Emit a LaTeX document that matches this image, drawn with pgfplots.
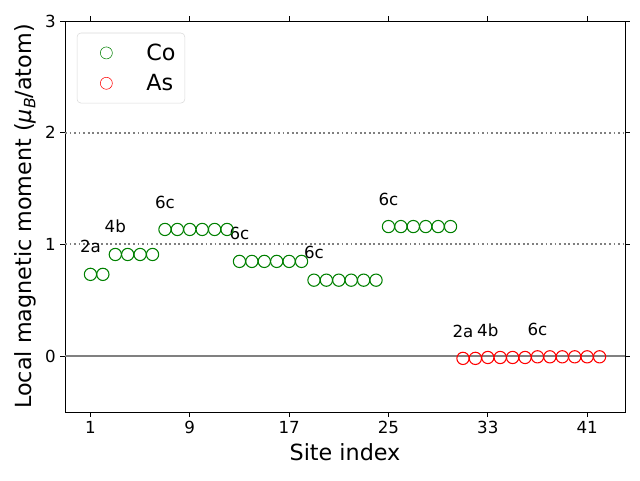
\documentclass[border=0pt]{standalone}
\usepackage{pgfplots}
\pgfplotsset{compat=1.18}
\usepackage{fontspec}
\setmainfont{DejaVu Sans}
\begin{document}
\begin{tikzpicture}
\begin{axis}[
  scale only axis,
  width=420pt, height=293.25pt,
  xmin=-1.05, xmax=44.05, ymin=-0.5, ymax=3,
  xtick={1,9,17,25,33,41},
  ytick={0,1,2,3},
  /pgf/number format/assume math mode=true,
  tick label style={font=\fontsize{12.5}{14}\selectfont},
  label style={font=\fontsize{16.7}{19}\selectfont},
  xlabel={Site index},
  ylabel={Local magnetic moment (\textit{μ}\raisebox{-0.35ex}{\fontsize{11.7}{12}\selectfont\textit{B}}/atom)},
  tick align=outside,
  tick style={black, line width=0.6pt},
  major tick length=3.5pt,
  axis line style={line width=0.6pt},
  legend style={font=\fontsize{16.7}{19}\selectfont, draw=black!15, rounded corners=3pt,
    at={(0.021,0.97)}, anchor=north west, inner xsep=5pt, inner ysep=6pt,
    row sep=5pt},
  legend cell align=left,
  legend image code/.code={\path[draw=none,fill=none] (0pt,-5pt) (45pt,5pt); \draw[#1] (17pt,0pt) circle (4.5pt);},
  clip=false,
]
\draw[gray, line width=1.1pt] (axis cs:-1.05,0) -- (axis cs:44.05,0);
\draw[gray, line width=1.4pt, dotted] (axis cs:-1.05,1) -- (axis cs:44.05,1);
\draw[gray, line width=1.4pt, dotted] (axis cs:-1.05,2) -- (axis cs:44.05,2);
\addplot[only marks, mark=o, mark size=4.6pt, color=green!50!black, mark options={line width=0.8pt}] coordinates {
(1,0.732) (2,0.732)
(3,0.91) (4,0.91) (5,0.91) (6,0.91)
(7,1.134) (8,1.134) (9,1.134) (10,1.134) (11,1.134) (12,1.134)
(13,0.848) (14,0.848) (15,0.848) (16,0.848) (17,0.848) (18,0.848)
(19,0.68) (20,0.68) (21,0.68) (22,0.68) (23,0.68) (24,0.68)
(25,1.16) (26,1.16) (27,1.16) (28,1.16) (29,1.16) (30,1.16)
};
\addlegendentry{Co}
\addplot[only marks, mark=o, mark size=4.6pt, color=red, mark options={line width=0.8pt}] coordinates {
(31,-0.02) (32,-0.02)
(33,-0.012) (34,-0.012) (35,-0.012) (36,-0.012)
(37,-0.006) (38,-0.006) (39,-0.006) (40,-0.006) (41,-0.006) (42,-0.006)
};
\addlegendentry{As}
\begin{scope}[every node/.style={font=\fontsize{12.5}{14}\selectfont, inner sep=0pt}]
\node at (axis cs:1,0.98) {2a};
\node at (axis cs:3,1.16) {4b};
\node at (axis cs:7,1.375) {6c};
\node at (axis cs:13,1.10) {6c};
\node at (axis cs:19,0.93) {6c};
\node at (axis cs:25,1.405) {6c};
\node at (axis cs:31,0.22) {2a};
\node at (axis cs:33,0.23) {4b};
\node at (axis cs:37,0.24) {6c};
\end{scope}
\end{axis}
\pgfresetboundingbox
\path (current axis.south west) ++(-48.75pt,-51pt) (current axis.north east) ++(11.25pt,15.75pt);
\end{tikzpicture}
\end{document}
